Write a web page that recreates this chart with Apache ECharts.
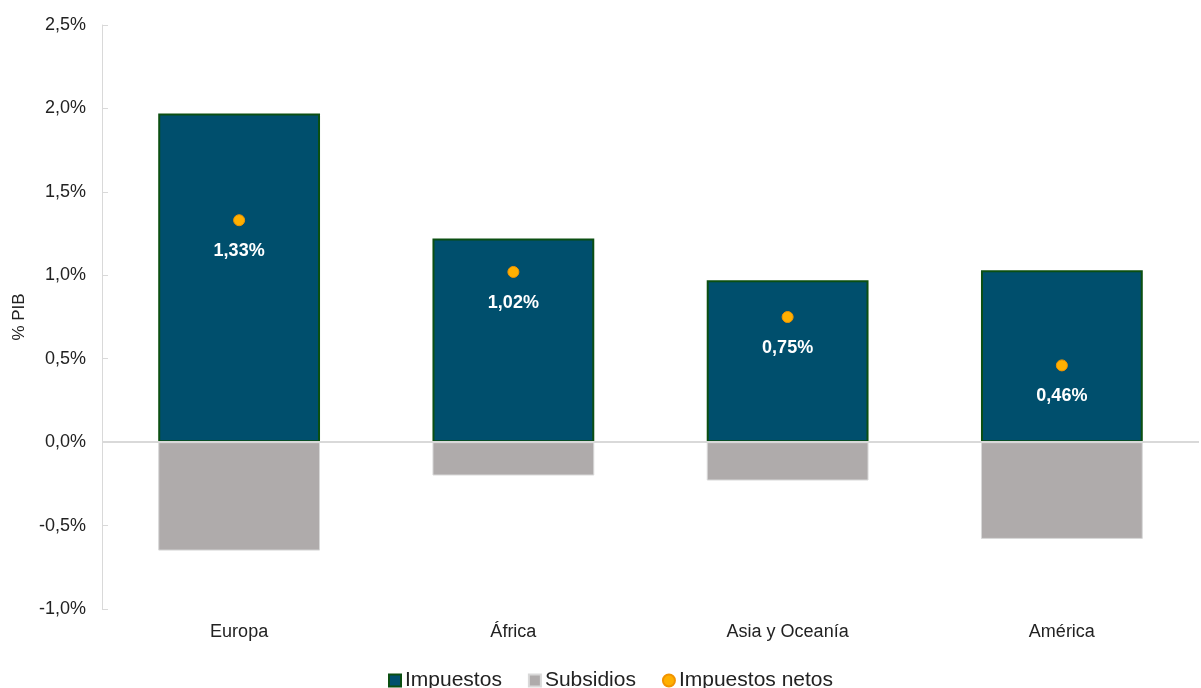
<!DOCTYPE html>
<html>
<head>
<meta charset="utf-8">
<script src="https://cdn.jsdelivr.net/npm/echarts@6/dist/echarts.min.js"></script>
<style>
  html, body { margin: 0; padding: 0; background: #ffffff; }
  #chart { width: 1201px; height: 688px; }
</style>
</head>
<body>
<div id="chart"></div>
<script>
// Regions on the horizontal axis
const categories = ['Europa', 'África', 'Asia y Oceanía', 'América'];
// Tax revenue and subsidies, % of GDP
const impuestos = [1.97, 1.22, 0.97, 1.03];
const subsidios = [-0.65, -0.20, -0.23, -0.58];
// Net taxes, % of GDP
const impuestosNetos = [1.33, 1.02, 0.75, 0.46];

const fmt = v => v.toFixed(2).replace('.', ',') + '%';
const fmtAxis = v => v.toFixed(1).replace('.', ',') + '%';

const chart = echarts.init(document.getElementById('chart'));
chart.setOption({
  animation: false,
  textStyle: { fontFamily: 'Liberation Sans, Arial, sans-serif' },
  grid: { left: 102, right: 2, top: 25, bottom: 79 },
  legend: {
    top: 665,
    left: 383,
    itemGap: 26,
    itemWidth: 12,
    itemHeight: 12,
    textStyle: { fontSize: 21, color: '#222222', padding: [0, 0, 0, -1] },
    data: [
      { name: 'Impuestos', icon: 'rect' },
      { name: 'Subsidios', icon: 'rect' },
      { name: 'Impuestos netos', icon: 'circle' }
    ]
  },
  xAxis: {
    type: 'category',
    data: categories,
    axisLine: { show: false },
    axisTick: { show: false },
    axisLabel: { fontSize: 18, color: '#222222', margin: 14 }
  },
  yAxis: {
    type: 'value',
    min: -1.0,
    max: 2.5,
    interval: 0.5,
    name: '% PIB',
    nameLocation: 'middle',
    nameGap: 72,
    nameRotate: 90,
    nameTextStyle: { fontSize: 17, color: '#222222' },
    axisLine: { show: true, lineStyle: { color: '#d9d9d9', width: 1 } },
    axisTick: { show: true, inside: true, length: 6, lineStyle: { color: '#d9d9d9' } },
    splitLine: { show: false },
    axisLabel: { fontSize: 18, color: '#222222', margin: 16, formatter: fmtAxis }
  },
  series: [
    {
      name: 'Impuestos',
      type: 'bar',
      stack: 'total',
      barWidth: '59%',
      data: impuestos,
      itemStyle: { color: '#004f6d', borderColor: '#0b4f12', borderWidth: 2 },
      markLine: {
        silent: true,
        symbol: 'none',
        label: { show: false },
        lineStyle: { color: '#d9d9d9', width: 2, type: 'solid' },
        data: [{ yAxis: 0 }]
      }
    },
    {
      name: 'Subsidios',
      type: 'bar',
      stack: 'total',
      barWidth: '59%',
      data: subsidios,
      itemStyle: { color: '#afabab', borderColor: '#d9d9d9', borderWidth: 1 }
    },
    {
      name: 'Impuestos netos',
      type: 'scatter',
      symbol: 'circle',
      symbolSize: 11,
      data: impuestosNetos,
      itemStyle: { color: '#ffb000', borderColor: '#f29400', borderWidth: 1, opacity: 1 },
      label: {
        show: true,
        position: 'bottom',
        distance: 16,
        color: '#ffffff',
        fontSize: 18,
        fontWeight: 'bold',
        formatter: p => fmt(p.value)
      },
      z: 5
    }
  ]
});
</script>
</body>
</html>
